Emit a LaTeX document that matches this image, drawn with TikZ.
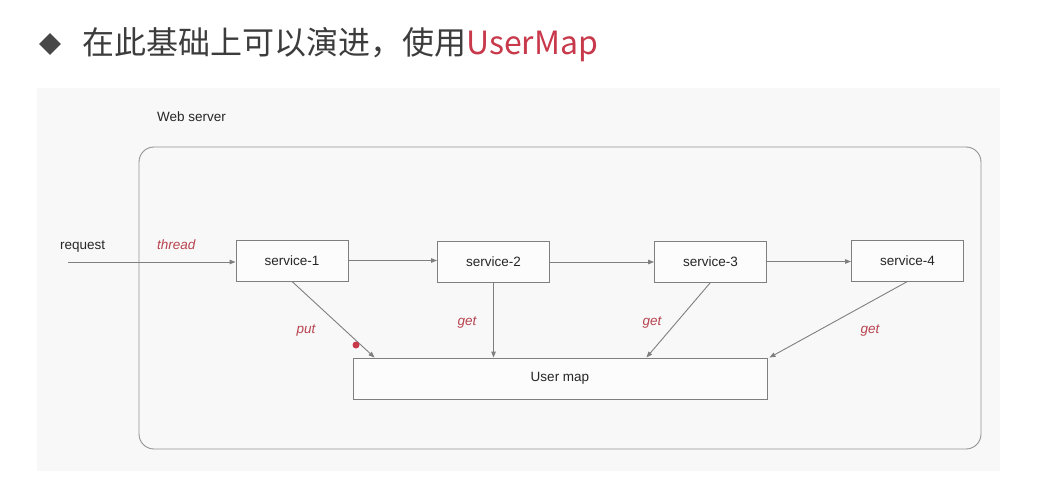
\documentclass[tikz,border=0pt]{standalone}
\usepackage{fontspec}
\setmainfont{Liberation Sans}
\newfontfamily\cjk{Noto Sans CJK SC}
\usetikzlibrary{arrows.meta,shapes.geometric}
\definecolor{linegray}{HTML}{7F7F7F}
\definecolor{textgray}{HTML}{262626}
\definecolor{labelred}{HTML}{B8434F}
\definecolor{titlered}{HTML}{C7394B}
\definecolor{panelgray}{HTML}{F8F8F8}

\begin{document}
\begin{tikzpicture}[x=1pt,y=-1pt,
    svcbox/.style={draw=linegray,fill=white!60!panelgray,line width=0.9pt,minimum width=112pt,
      minimum height=41pt,inner sep=0pt,text=textgray,font=\fontsize{13.5}{15}\selectfont},
    plain/.style={text=textgray,font=\fontsize{13.5}{15}\selectfont,inner sep=0pt},
    redlabel/.style={text=labelred,font=\fontsize{13.5}{15}\selectfont\itshape,inner sep=0pt},
    flow/.style={draw=linegray,line width=0.9pt,-{Triangle[length=6pt,width=4.5pt]}}]
        \useasboundingbox (0,0) rectangle (1055,484);

        % title
        \node[diamond,fill=textgray!85,inner sep=0pt,minimum width=22pt,minimum height=22pt] (bullet) at (50,44) {};
        \node[anchor=base west,inner sep=0pt,text=textgray!90,font=\cjk\fontsize{32}{36}\selectfont] (title) at (82,55)
            {在此基础上可以演进，使用\textcolor{titlered}{UserMap}};

        % panel and web server
        \fill[panelgray] (37,88) rectangle (1000,471);
        \node[plain,anchor=base west] (websrv) at (157,122) {Web server};
        \draw[linegray!85,line width=0.9pt,rounded corners=15pt] (139,147) rectangle (981,449);

        % services
        \node[svcbox] (s1) at (292,260.5) {service-1};
        \node[svcbox] (s2) at (493.5,262) {service-2};
        \node[svcbox] (s3) at (710.5,261.5) {service-3};
        \node[svcbox] (s4) at (907.5,260.5) {service-4};
        \node[svcbox,minimum width=414pt] (um) at (560,378.5) {User map};

        % request
        \node[plain,anchor=base west] (req) at (60,249) {request};
        \node[redlabel,anchor=base west] (thread) at (157,249) {thread};
        \coordinate (reqstart) at (68,262);
        \draw[flow] (reqstart) -- (s1.west |- reqstart);

        \draw[flow] (s1.east) -- (s2.west |- s1.east);
        \draw[flow] (s2.east) -- (s3.west |- s2.east);
        \draw[flow] (s3.east) -- (s4.west |- s3.east);

        % map access
        \draw[flow] (s1.south) -- ([xshift=22pt]um.north west);
        \draw[flow] (s2.south) -- (s2.south |- um.north);
        \draw[flow] (s3.south) -- ([xshift=-121pt]um.north east);
        \draw[flow] (s4.south) -- ([xshift=2pt]um.north east);

        \node[redlabel] (put) at (306,331) {put};
        \node[redlabel] (get2) at (467,323) {get};
        \node[redlabel] (get3) at (652,323) {get};
        \node[redlabel] (get4) at (870,331) {get};
        \fill[titlered] (356,345) circle (3.5pt);
\end{tikzpicture}
\end{document}
